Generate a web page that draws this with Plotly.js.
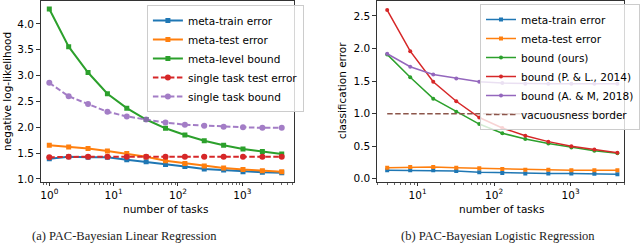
<!DOCTYPE html>
<html>
<head>
<meta charset="utf-8">
<script src="https://cdn.plot.ly/plotly-3.0.1.min.js"></script>
<style>html,body{margin:0;padding:0;background:#fff;}#chart{width:640px;height:246px;}</style>
</head>
<body>
<div id="chart"></div>
<script>
// ---- data: (a) linear regression ----
const tasksA = [1, 2, 4, 8, 16, 32, 64, 128, 256, 512, 1024, 2048, 4096];
const metaTrainA = [1.39, 1.43, 1.42, 1.42, 1.37, 1.33, 1.28, 1.24, 1.19, 1.17, 1.14, 1.13, 1.12];
const metaTestA = [1.65, 1.62, 1.59, 1.54, 1.49, 1.43, 1.35, 1.30, 1.25, 1.21, 1.18, 1.16, 1.14];
const metaBoundA = [4.29, 3.56, 3.06, 2.65, 2.37, 2.15, 1.98, 1.85, 1.74, 1.65, 1.58, 1.53, 1.48];
const singleTestA = [1.42, 1.43, 1.43, 1.43, 1.43, 1.43, 1.43, 1.43, 1.43, 1.43, 1.43, 1.43, 1.43];
const singleBoundA = [2.86, 2.60, 2.45, 2.30, 2.21, 2.15, 2.09, 2.05, 2.03, 2.01, 2.00, 1.99, 1.99];

// ---- data: (b) logistic regression ----
const tasksB = [4, 8, 16, 32, 64, 128, 256, 512, 1024, 2048, 4096];
const metaTrainB = [0.13, 0.13, 0.13, 0.12, 0.10, 0.09, 0.08, 0.08, 0.08, 0.075, 0.07];
const metaTestB = [0.17, 0.18, 0.18, 0.17, 0.16, 0.15, 0.14, 0.14, 0.13, 0.13, 0.13];
const boundOursB = [1.91, 1.56, 1.23, 1.03, 0.84, 0.70, 0.61, 0.54, 0.48, 0.43, 0.39];
const boundPLB = [2.59, 1.96, 1.49, 1.19, 0.94, 0.78, 0.66, 0.57, 0.50, 0.45, 0.40];
const boundAMB = [1.92, 1.72, 1.60, 1.54, 1.49, 1.47, 1.46, 1.46, 1.46, 1.46, 1.46];
const vacuousB = [1, 1, 1, 1, 1, 1, 1, 1, 1, 1, 1];

// ---- tick labels ----
const majorTicksA = [1, 10, 100, 1000];
const majorTextA = ['10<sup>0</sup>', '10<sup>1</sup>', '10<sup>2</sup>', '10<sup>3</sup>'];
const majorTicksB = [10, 100, 1000];
const majorTextB = ['10<sup>1</sup>', '10<sup>2</sup>', '10<sup>3</sup>'];
const minorTicksA = [0.8, 0.9, 2, 3, 4, 5, 6, 7, 8, 9, 20, 30, 40, 50, 60, 70, 80, 90,
  200, 300, 400, 500, 600, 700, 800, 900, 2000, 3000, 4000, 5000, 6000];
const minorTicksB = [3, 4, 5, 6, 7, 8, 9, 20, 30, 40, 50, 60, 70, 80, 90,
  200, 300, 400, 500, 600, 700, 800, 900, 2000, 3000, 4000, 5000];

const C = {blue:'#1f77b4', orange:'#ff7f0e', green:'#2ca02c', red:'#d62728', purple:'#9467bd', brown:'#8c564b'};
const FONT = 'DejaVu Sans, sans-serif';
const FS = 10.5;

function tr(x, y, name, color, sym, opts) {
  opts = opts || {};
  return {
    x: x, y: y, name: name, type: 'scatter', mode: opts.mode || 'lines+markers',
    xaxis: opts.xa, yaxis: opts.ya, legend: opts.lg,
    line: {color: color, width: opts.w || 1.5, dash: opts.dash || 'solid'},
    marker: {color: color, symbol: sym, size: opts.ms || 4},
    opacity: opts.op || 1
  };
}

const dashA = '5.5px,2.5px';
const traces = [
  tr(tasksA, metaTrainA, 'meta-train error', C.blue, 'square', {xa:'x', ya:'y', lg:'legend', w:2, ms:5}),
  tr(tasksA, metaTestA, 'meta-test error', C.orange, 'square', {xa:'x', ya:'y', lg:'legend', w:2, ms:5}),
  tr(tasksA, metaBoundA, 'meta-level bound', C.green, 'square', {xa:'x', ya:'y', lg:'legend', w:2, ms:5}),
  tr(tasksA, singleTestA, 'single task test error', C.red, 'circle', {xa:'x', ya:'y', lg:'legend', w:2, ms:6, dash:dashA}),
  tr(tasksA, singleBoundA, 'single task bound', C.purple, 'circle', {xa:'x', ya:'y', lg:'legend', w:2, ms:6, dash:dashA, op:0.85}),

  tr(tasksB, metaTrainB, 'meta-train error', C.blue, 'square', {xa:'x2', ya:'y2', lg:'legend2'}),
  tr(tasksB, metaTestB, 'meta-test error', C.orange, 'square', {xa:'x2', ya:'y2', lg:'legend2'}),
  tr(tasksB, boundOursB, 'bound (ours)', C.green, 'circle', {xa:'x2', ya:'y2', lg:'legend2'}),
  tr(tasksB, boundPLB, 'bound (P. & L., 2014)', C.red, 'circle', {xa:'x2', ya:'y2', lg:'legend2'}),
  tr(tasksB, boundAMB, 'bound (A. & M, 2018)', C.purple, 'circle', {xa:'x2', ya:'y2', lg:'legend2'}),
  tr(tasksB, vacuousB, 'vacuousness border', C.brown, 'circle', {xa:'x2', ya:'y2', lg:'legend2', mode:'lines', dash:'5.5px,2.5px'})
];

function xax(domain, range, tv, tt, minor) {
  return {
    type: 'log', domain: domain, range: range,
    tickmode: 'array', tickvals: tv, ticktext: tt,
    ticks: 'outside', ticklen: 3.5, tickwidth: 0.8, tickcolor: '#000',
    minor: {tickmode: 'array', tickvals: minor, ticks: 'outside', ticklen: 2, tickwidth: 0.6, tickcolor: '#000', showgrid: false},
    showline: true, linecolor: '#000', linewidth: 0.8, mirror: true,
    showgrid: false, zeroline: false,
    tickfont: {family: FONT, size: FS, color: '#000'}
  };
}
function yax(domain, range, dtick, anchor) {
  return {
    domain: domain, range: range, dtick: dtick, tickformat: '.1f', anchor: anchor,
    ticks: 'outside', ticklen: 3.5, tickwidth: 0.8, tickcolor: '#000',
    showline: true, linecolor: '#000', linewidth: 0.8, mirror: true,
    showgrid: false, zeroline: false,
    tickfont: {family: FONT, size: FS, color: '#000'}
  };
}

const legendBase = {
  font: {family: FONT, size: FS, color: '#000'},
  bgcolor: 'rgba(255,255,255,0.8)', bordercolor: '#cccccc', borderwidth: 1,
  xanchor: 'left', yanchor: 'top', tracegroupgap: 0, itemwidth: 30
};

function ann(text, x, y, extra) {
  return Object.assign({text: text, xref: 'paper', yref: 'paper', x: x / 640, y: 1 - y / 246,
    xanchor: 'center', yanchor: 'middle', showarrow: false,
    font: {family: FONT, size: FS, color: '#000'}}, extra || {});
}

const layout = {
  width: 640, height: 246,
  margin: {l: 0, r: 0, t: 0, b: 0},
  paper_bgcolor: '#fff', plot_bgcolor: '#fff',
  showlegend: true,
  xaxis: Object.assign(xax([41/640, 298/640], [-0.138, 3.80], majorTicksA, majorTextA, minorTicksA), {anchor: 'y'}),
  yaxis: yax([64/246, 245/246], [0.94, 4.445], 0.5, 'x'),
  xaxis2: Object.assign(xax([382/640, 633/640], [0.464, 3.70], majorTicksB, majorTextB, minorTicksB), {anchor: 'y2'}),
  yaxis2: yax([64/246, 245/246], [-0.05, 2.73], 0.5, 'x2'),
  legend: Object.assign({}, legendBase, {x: 149/640, y: 1 - 5/246}),
  legend2: Object.assign({}, legendBase, {x: 487/640, y: 1 - 4/246}),
  annotations: [
    ann('negative log-likelihood', 7, 91, {textangle: -90}),
    ann('number of tasks', 168, 209),
    ann('classification error', 347, 91, {textangle: -90}),
    ann('number of tasks', 509, 209),
    ann('(a) PAC-Bayesian Linear Regression', 126, 236, {font: {family: 'Liberation Serif, serif', size: 12.5, color: '#222'}}),
    ann('(b) PAC-Bayesian Logistic Regression', 505, 236, {font: {family: 'Liberation Serif, serif', size: 12.5, color: '#222'}})
  ]
};

Plotly.newPlot('chart', traces, layout, {displayModeBar: false, staticPlot: true});
</script>
</body>
</html>
